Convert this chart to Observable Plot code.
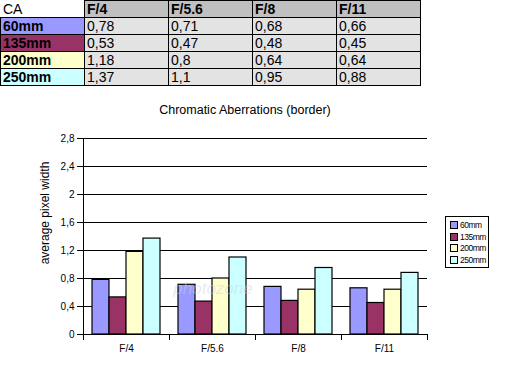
<!DOCTYPE html>
<html>
<head>
<meta charset="utf-8">
<script src="https://cdn.jsdelivr.net/npm/d3@7"></script>
<script src="https://cdn.jsdelivr.net/npm/@observablehq/plot@0.6"></script>
<style>
  html, body { margin: 0; padding: 0; background: #fff; }
  body { width: 512px; height: 376px; position: relative; overflow: hidden; font-family: "Liberation Sans", Arial, sans-serif; }
  #tbl { position: absolute; left: 0; top: 0; border-collapse: collapse; table-layout: fixed; }
  #tbl td { border: 1px solid #000; width: 81px; height: 16px; padding: 0 0 0 2px; font-size: 14px; line-height: 16px; white-space: nowrap; overflow: hidden; }
  #tbl td.h { background: #c0c0c0; font-weight: bold; }
  #tbl td.ca { background: #fff; border-top-color: #fff; border-left-color: #fff; }
  #tbl td.lab { font-weight: bold; }
  #tbl td.d { background: #e3e3e3; }
  #chart { position: absolute; left: 0; top: 90px; }
  #title { position: absolute; left: 0; width: 490px; top: 103px; text-align: center; font-size: 12.5px; }
  #ylab { position: absolute; left: 45px; top: 213px; font-size: 12px; white-space: nowrap; transform: translate(-50%, -50%) rotate(-90deg); }
  #legend { position: absolute; left: 445px; top: 216px; width: 42px; height: 50px; border: 1px solid #000; background: #fff; }
  .li { position: absolute; left: 4px; height: 10px; font-size: 8.5px; letter-spacing: -0.5px; line-height: 10px; white-space: nowrap; }
  .sw { display: inline-block; width: 6px; height: 6px; border: 1px solid #000; vertical-align: -1px; margin-right: 2px; }
</style>
</head>
<body>
<table id="tbl"></table>
<div id="title">Chromatic Aberrations (border)</div>
<div id="chart"></div>
<div id="ylab">average pixel width</div>
<div id="legend"></div>
<script>
const apertures = ["F/4", "F/5.6", "F/8", "F/11"];
const lenses = ["60mm", "135mm", "200mm", "250mm"];
const lensColors = ["#9999ff", "#993366", "#ffffcc", "#ccffff"];
const v60 = [0.78, 0.71, 0.68, 0.66];
const v135 = [0.53, 0.47, 0.48, 0.45];
const v200 = [1.18, 0.8, 0.64, 0.64];
const v250 = [1.37, 1.1, 0.95, 0.88];
const tableText60 = ["0,78", "0,71", "0,68", "0,66"];
const tableText135 = ["0,53", "0,47", "0,48", "0,45"];
const tableText200 = ["1,18", "0,8", "0,64", "0,64"];
const tableText250 = ["1,37", "1,1", "0,95", "0,88"];
const yTicks = [0, 0.4, 0.8, 1.2, 1.6, 2, 2.4, 2.8];
const yTickLabels = ["0", "0,4", "0,8", "1,2", "1,6", "2", "2,4", "2,8"];

const series = [v60, v135, v200, v250];
const tableTexts = [tableText60, tableText135, tableText200, tableText250];

// Table
const tbl = document.getElementById("tbl");
let html = '<tr><td class="ca">CA</td>' + apertures.map(a => `<td class="h">${a}</td>`).join("") + "</tr>";
lenses.forEach((l, i) => {
  html += `<tr><td class="lab" style="background:${lensColors[i]}">${l}</td>` +
    tableTexts[i].map(t => `<td class="d">${t}</td>`).join("") + "</tr>";
});
tbl.innerHTML = html;

// Data
const data = [];
lenses.forEach((l, i) => apertures.forEach((a, j) => data.push({lens: l, aperture: a, value: series[i][j]})));

const plot = Plot.plot({
  width: 512,
  height: 286,
  marginTop: 48,
  marginBottom: 42,
  marginLeft: 83,
  marginRight: 85,
  style: {fontFamily: "'Liberation Sans', Arial, sans-serif", fontSize: "10px", background: "transparent", color: "#000"},
  fx: {domain: apertures, padding: 0, label: null, axis: "bottom", tickSize: 0, tickPadding: 10},
  x: {domain: lenses, paddingInner: 0, paddingOuter: 0.5, axis: null},
  y: {domain: [0, 2.8], axis: null},
  color: {domain: lenses, range: lensColors},
  marks: [
    Plot.gridY(yTicks, {stroke: "#000", strokeOpacity: 1, strokeWidth: 1}),
    Plot.axisY(yTicks, {tickFormat: (d) => yTickLabels[yTicks.indexOf(d)], tickSize: 6, tickPadding: 3, label: null, stroke: "#000"}),
    Plot.barY(data, {fx: "aperture", x: "lens", y: "value", fill: "lens", stroke: "#000", strokeWidth: 1.2, inset: 0})
  ]
});
document.getElementById("chart").appendChild(plot);

// axis line and category boundary ticks drawn from the plot's own scales
const fx = plot.scale("fx");
const ys = plot.scale("y");
const svg = d3.select(plot);
const y0 = ys.apply(0);
const yTop = ys.apply(2.8);
const edges = apertures.map(a => fx.apply(a)).concat([fx.apply(apertures[apertures.length - 1]) + fx.bandwidth]);
const g = svg.append("g").attr("stroke", "#000").attr("stroke-width", 1);
g.append("line").attr("x1", edges[0] + 0.5).attr("x2", edges[0] + 0.5).attr("y1", yTop).attr("y2", y0 + 6);
edges.forEach(x => g.append("line").attr("x1", Math.round(x) + 0.5).attr("x2", Math.round(x) + 0.5).attr("y1", y0).attr("y2", y0 + 6));
g.append("line").attr("x1", edges[0]).attr("x2", edges[edges.length - 1]).attr("y1", y0 + 0.5).attr("y2", y0 + 0.5);

// faint watermark
svg.append("text").attr("x", (edges[1] + edges[2]) / 2 + 1).attr("y", y0 - 40)
  .attr("text-anchor", "middle").attr("font-size", 17).attr("font-style", "italic")
  .attr("fill", "#c8d4e6").attr("fill-opacity", 0.45).text("photozone");

// Legend
const leg = document.getElementById("legend");
lenses.forEach((l, i) => {
  const d = document.createElement("div");
  d.className = "li";
  d.style.top = (3 + i * 11.7) + "px";
  d.innerHTML = `<span class="sw" style="background:${lensColors[i]}"></span>${l}`;
  leg.appendChild(d);
});
</script>
</body>
</html>
